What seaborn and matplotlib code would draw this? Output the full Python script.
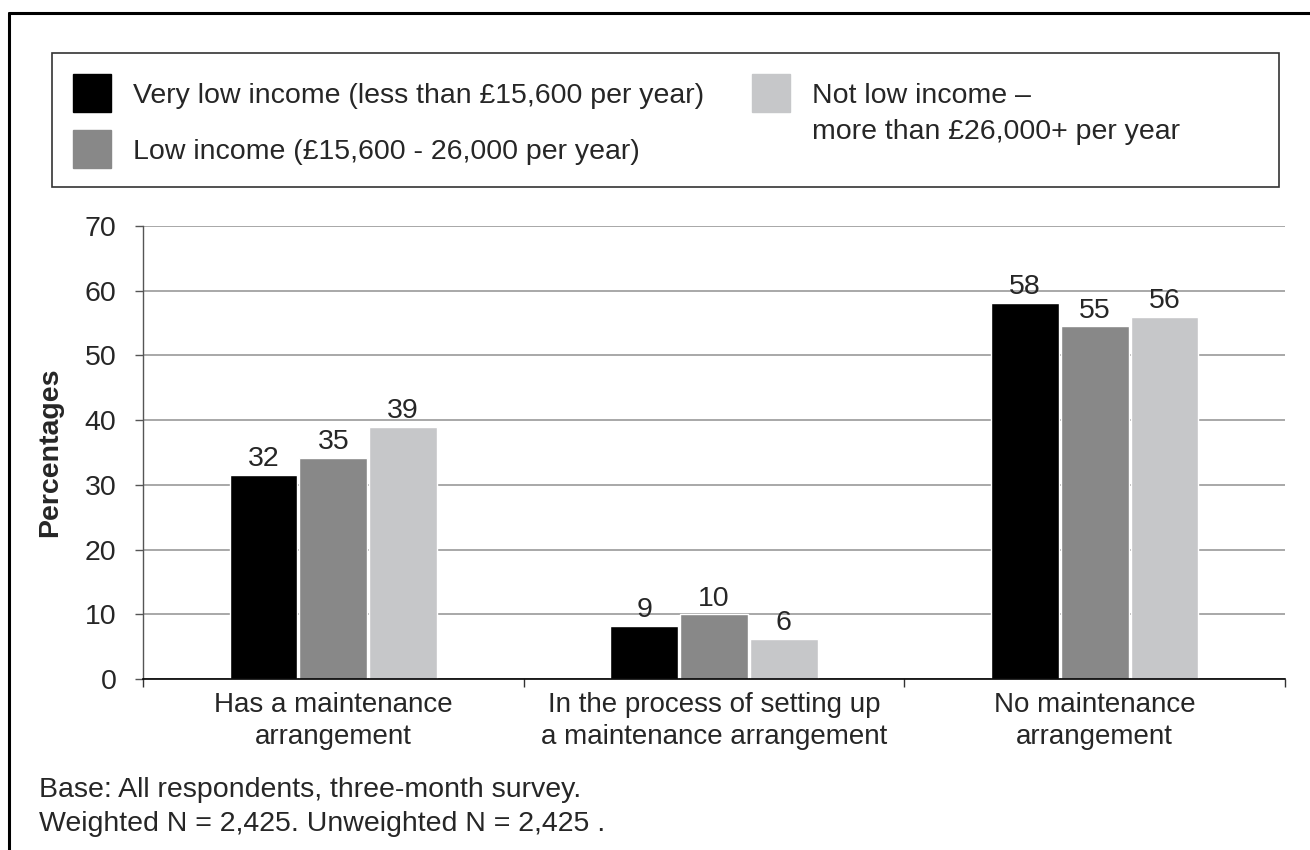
import matplotlib.pyplot as plt
import seaborn as sns
import pandas as pd
from matplotlib.patches import Rectangle
from matplotlib.lines import Line2D

categories = ['Has a maintenance\narrangement',
              'In the process of setting up\na maintenance arrangement',
              'No maintenance\narrangement']
groups = ['Very low income (less than £15,600 per year)',
          'Low income (£15,600 - 26,000 per year)',
          'Not low income –\nmore than £26,000+ per year']
very_low = [31.5, 8.2, 58.1]
low = [34.2, 10.0, 54.5]
not_low = [39.0, 6.2, 56.0]
very_low_labels = ['32', '9', '58']
low_labels = ['35', '10', '55']
not_low_labels = ['39', '6', '56']
colors = ['#000000', '#888888', '#c6c7c9']

df = pd.DataFrame({
    'category': categories * 3,
    'group': [groups[0]] * 3 + [groups[1]] * 3 + [groups[2]] * 3,
    'value': very_low + low + not_low,
})

sns.set_style('white')
plt.rcParams['font.family'] = ['Liberation Sans', 'DejaVu Sans']
FS = 20.5
W, H = 1310, 850

fig = plt.figure(figsize=(W / 100, H / 100), dpi=100)
ax = fig.add_axes([143 / W, 1 - 679 / H, (1285 - 143) / W, (679 - 226) / H])

sns.barplot(data=df, x='category', y='value', hue='group', order=categories,
            hue_order=groups, palette=colors, width=0.55, gap=0.03,
            saturation=1, legend=False, ax=ax)

# labels on the bars (rounded figures as printed)
for cont, labs in zip(ax.containers, [very_low_labels, low_labels, not_low_labels]):
    ax.bar_label(cont, labels=labs, padding=2, fontsize=FS)

ax.set_xlim(-0.5, 2.5)
ax.set_ylim(0, 70)
ax.set_yticks(range(0, 71, 10))
ax.yaxis.grid(True, color='#999999', linewidth=1.2)
ax.set_axisbelow(True)
ax.tick_params(axis='y', labelsize=FS, length=6, width=1, color='#555555',
               left=True, pad=13)
ax.set_xticks([0, 1, 2])
ax.set_xticklabels(categories, fontsize=20, linespacing=1.3)
ax.tick_params(axis='x', length=0, pad=9)
ax.set_xticks([-0.5, 0.5, 1.5, 2.5], minor=True)
ax.tick_params(axis='x', which='minor', length=6, width=1, color='#333333',
               bottom=True, direction='out')
ax.set_xlabel('')
ax.set_ylabel('Percentages', fontsize=FS, fontweight='bold', labelpad=16)

for side in ['top', 'right']:
    ax.spines[side].set_visible(False)
ax.spines['left'].set_color('#555555')
ax.spines['bottom'].set_color('#000000')
ax.spines['left'].set_linewidth(1)
ax.spines['bottom'].set_linewidth(1.2)

# legend box drawn by hand: (square x, square top y, text x, text centre y) in pixels
legend_items = [(73, 74, 133, 93), (73, 130, 133, 149), (752, 74, 812, 93)]
for (sx, sy, tx, ty), c, lab in zip(legend_items, colors, groups):
    fig.add_artist(Rectangle((sx / W, 1 - (sy + 38) / H), 38 / W, 38 / H,
                             transform=fig.transFigure, color=c))
    lines = lab.split('\n')
    for i, line in enumerate(lines):
        fig.text(tx / W, 1 - (ty + i * 36) / H, line, fontsize=FS,
                 va='center_baseline', ha='left')
fig.add_artist(Rectangle((52 / W, 1 - 187 / H), (1279 - 52) / W, (187 - 53) / H,
                         transform=fig.transFigure, fill=False,
                         edgecolor='#333333', linewidth=1.2))

# outer frame (top and left edges visible)
fig.add_artist(Line2D([9 / W, 1], [1 - 13 / H] * 2, transform=fig.transFigure,
                      color='black', linewidth=2.2))
fig.add_artist(Line2D([9 / W] * 2, [0, 1 - 13 / H], transform=fig.transFigure,
                      color='black', linewidth=2.2))

fig.text(39 / W, 1 - 787 / H, 'Base: All respondents, three-month survey.',
         fontsize=FS, va='center_baseline', ha='left')
fig.text(39 / W, 1 - 821 / H, 'Weighted N = 2,425. Unweighted N = 2,425 .',
         fontsize=FS, va='center_baseline', ha='left')

fig.savefig('out.png', dpi=100)
